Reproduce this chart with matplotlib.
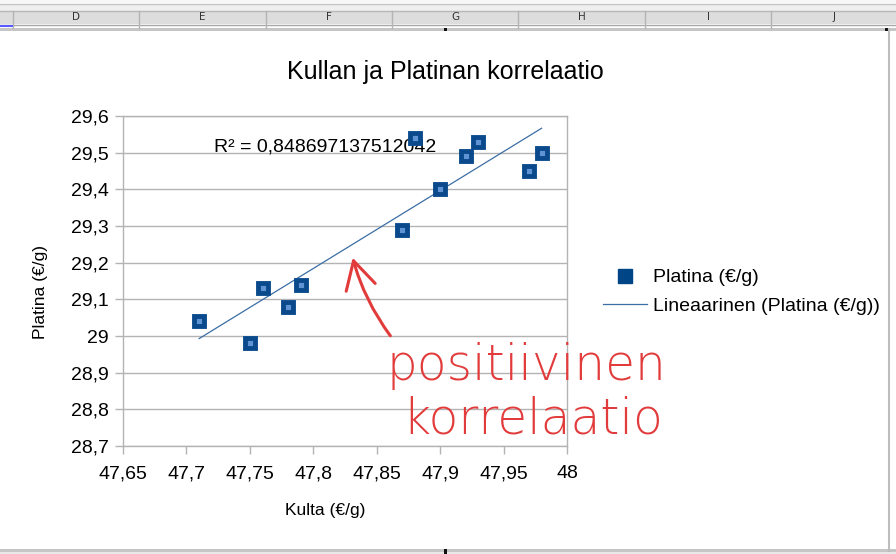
import numpy as np
import matplotlib
matplotlib.use("Agg")
import matplotlib.pyplot as plt
from matplotlib.patches import Rectangle, FancyArrowPatch
from matplotlib.lines import Line2D
from matplotlib.ticker import FuncFormatter, MultipleLocator

# ---- data ----
kulta = [47.71, 47.75, 47.76, 47.78, 47.79, 47.87, 47.88, 47.90, 47.92, 47.93, 47.97, 47.98]
platina = [29.04, 28.98, 29.13, 29.08, 29.14, 29.29, 29.54, 29.40, 29.49, 29.53, 29.45, 29.50]
title = "Kullan ja Platinan korrelaatio"
xlabel = "Kulta (€/g)"
ylabel = "Platina (€/g)"
series_name = "Platina (€/g)"
trend_name = "Lineaarinen (Platina (€/g))"
r2_text = "R² = 0,848697137512042"
columns = ["D", "E", "F", "G", "H", "I", "J"]
note_lines = ["positiivinen", "korrelaatio"]

W, H = 896, 554
plt.rcParams['font.family'] = ['Liberation Sans', 'DejaVu Sans']
fig = plt.figure(figsize=(W / 100, H / 100), dpi=100)
fig.patch.set_facecolor('white')


def fx(x):
    return x / W


def fy(y):
    return 1 - y / H


def rect(x0, y0, x1, y1, color):
    fig.add_artist(Rectangle((fx(x0), fy(y1)), fx(x1) - fx(x0), fy(y0) - fy(y1),
                             transform=fig.transFigure, facecolor=color,
                             edgecolor='none', zorder=0))


def vline(x, y0, y1, color, lw=1):
    fig.add_artist(Line2D([fx(x), fx(x)], [fy(y0), fy(y1)], transform=fig.transFigure,
                          color=color, lw=lw, zorder=1))


def hline(y, x0, x1, color, lw=1):
    fig.add_artist(Line2D([fx(x0), fx(x1)], [fy(y), fy(y)], transform=fig.transFigure,
                          color=color, lw=lw, zorder=1))


# ---- spreadsheet frame ----
rect(0, 0, W, 3, '#f7f7f7')
hline(3.5, 0, W, '#c4c4c4')
rect(0, 4, W, 11, '#efefef')
rect(0, 11, W, 24, '#dddddd')
hline(11, 0, W, '#b8b8b8')
hline(24.5, 0, W, '#a8a8a8')
dividers = [13, 139, 266, 392, 518, 645, 771, 898]
for d in dividers:
    vline(d, 11, 28, '#b4b4b4')
for i, c in enumerate(columns):
    cx = (dividers[i] + dividers[i + 1]) / 2
    fig.text(fx(cx), fy(17.5), c, ha='center', va='center', fontsize=7.5,
             color='#333333', family=['DejaVu Sans'])
rect(0, 28, W, 31, '#c6c6c6')
hline(25.5, 0, 12, '#5a5aff', lw=1.5)
rect(444, 28, 447, 31, '#111111')
rect(885, 28, 890, 31, '#111111')
vline(889, 29, 551, '#bdbdbd', lw=1.5)
rect(0, 549, W, 552, '#c6c6c6')
rect(0, 552, W, H, '#e8e8e8')
rect(444, 549, 447, H, '#111111')

# ---- axes ----
ax = fig.add_axes([fx(123), fy(446), fx(567) - fx(123), fy(116) - fy(446)])
ax.set_xlim(47.65, 48.0)
ax.set_ylim(28.7, 29.6)
ax.xaxis.set_major_locator(MultipleLocator(0.05))
ax.yaxis.set_major_locator(MultipleLocator(0.1))


def comma(v, pos):
    return f"{round(v, 2):g}".replace('.', ',')


ax.xaxis.set_major_formatter(FuncFormatter(comma))
ax.yaxis.set_major_formatter(FuncFormatter(comma))
grid_col = '#b3b3b3'
for s in ax.spines.values():
    s.set_color(grid_col)
    s.set_linewidth(1)
ax.grid(axis='y', color=grid_col, lw=1)
ax.set_axisbelow(True)
ax.tick_params(axis='both', direction='out', length=6, width=1, color=grid_col,
               labelsize=14, labelcolor='black')
ax.tick_params(axis='x', pad=8)
ax.tick_params(axis='y', pad=4)

# trend line from least squares fit
coef = np.polyfit(kulta, platina, 1)
xs = np.array([min(kulta), max(kulta)])
ax.plot(xs, np.polyval(coef, xs), color='#3a6ea5', lw=0.9, zorder=3)
ax.plot(kulta, platina, linestyle='none', marker='s', markersize=7.0,
        markerfacecolor='#5f93d3', markeredgecolor='#0a4a8c', markeredgewidth=3.5,
        zorder=4)

ax.text(47.7215, 29.515, r2_text, fontsize=14, ha='left', va='center', zorder=2)

# titles
fig.text(fx(445), fy(72), title, ha='center', va='center', fontsize=18)
fig.text(fx(325), fy(510), xlabel, ha='center', va='center', fontsize=12.5)
fig.text(fx(40), fy(292), ylabel, ha='center', va='center', fontsize=12.5, rotation=90)

# legend
handles = [
    Line2D([], [], linestyle='none', marker='s', markersize=9.5,
           markerfacecolor='#004586', markeredgecolor='#004586'),
    Line2D([], [], color='#3a6ea5', lw=0.9),
]
fig.legend(handles, [series_name, trend_name], loc='center left',
           bbox_to_anchor=(fx(603), fy(292)), frameon=False, fontsize=14,
           handlelength=2.27, handletextpad=0.3, borderpad=0, borderaxespad=0,
           labelspacing=0.58)

# handwritten note
red = '#e23b3b'
fig.text(fx(386), fy(380), note_lines[0], ha='left', va='baseline', fontsize=35,
         color=red, family=['DejaVu Sans'], fontweight='light')
fig.text(fx(402), fy(434), note_lines[1], ha='left', va='baseline', fontsize=35,
         color=red, family=['DejaVu Sans'], fontweight='light')
fig.add_artist(FancyArrowPatch((fx(392), fy(338)), (fx(352), fy(255)),
                               transform=fig.transFigure,
                               arrowstyle='->,head_length=1.1,head_width=0.6',
                               mutation_scale=18, color=red, lw=2.2,
                               connectionstyle='arc3,rad=-0.1'))

fig.savefig('out.png', dpi=100, facecolor='white')
